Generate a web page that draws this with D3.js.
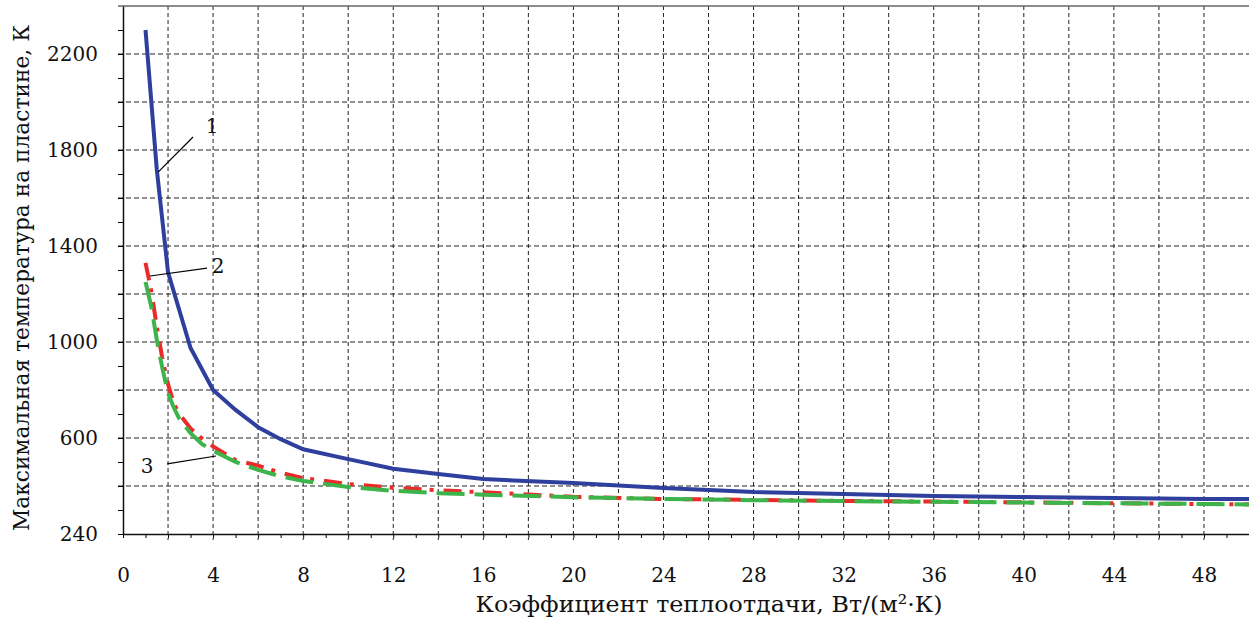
<!DOCTYPE html>
<html>
<head>
<meta charset="utf-8">
<script src="https://cdn.jsdelivr.net/npm/d3@7"></script>
<style>
    body { margin: 0; background: #fff; }
    text { font-family: "DejaVu Serif", serif; fill: #111; }
</style>
</head>
<body>
<svg width="1249" height="622"></svg>
<script>
// heat transfer coefficient, W/(m2 K)
var h1 = [1, 1.5, 2, 3, 4, 5, 6, 7, 8, 10, 12, 14, 16, 20, 24, 28, 30, 34, 36, 40, 44, 48, 50];
// curve 1 - max temperature, K
var temp1 = [2300, 1720, 1290, 975, 800, 717, 645, 595, 553, 512, 472, 450, 429, 412, 392, 375, 371, 362, 358, 354, 350, 346, 346];

var h23 = [1, 1.25, 1.5, 1.75, 2, 2.25, 2.5, 3, 3.5, 4, 5, 6, 7, 8, 10, 12, 14, 16, 20, 24, 28, 32, 36, 40, 44, 48, 50];
// curve 2 (red, dash-dot)
var temp2 = [1330, 1215, 1065, 930, 825, 745, 700, 640, 598, 565, 508, 485, 455, 433, 408, 393, 382, 374, 355, 346, 342, 338, 335, 332, 328, 325, 324];
// curve 3 (green, dashed)
var temp3 = [1250, 1150, 1010, 890, 787, 728, 680, 620, 575, 547, 500, 467, 440, 421, 396, 380, 370, 364, 353, 346, 341, 337, 334, 331, 328, 325, 323];

// axis ticks
var xTickValues = [0, 4, 8, 12, 16, 20, 24, 28, 32, 36, 40, 44, 48];
var yTickValues = [200, 600, 1000, 1400, 1800, 2200];
var yTickLabels = ["240", "600", "1000", "1400", "1800", "2200"];

// curve numbers: label position and leader line (data units)
var labelText = ["1", "2", "3"];
var labelPos = [[3.96, 1871], [4.22, 1287], [1.07, 454]];
var leaderFrom = [[1.56, 1708], [1.2, 1275], [1.96, 492]];
var leaderTo = [[3.11, 1854], [3.73, 1308], [4.13, 525]];

window.onload = function () {
    build_chart();
}

function build_chart() {
    var svg = d3.select("svg"),
        margin = { top: 6, right: 0, bottom: 88, left: 123 },
        width = +svg.attr("width") - margin.left - margin.right,
        height = +svg.attr("height") - margin.top - margin.bottom,
        g = svg.append("g").attr("transform", "translate(" + margin.left + "," + margin.top + ")");

    var x = d3.scaleLinear().domain([0, 50]).range([0, width]);
    var y = d3.scaleLinear().domain([200, 2400]).range([height, 0]);

    //grid lines
    g.append("g")
        .selectAll("line")
        .data(d3.range(2, 50, 2))
        .enter().append("line")
        .attr("x1", function (d) { return x(d); })
        .attr("x2", function (d) { return x(d); })
        .attr("y1", 0)
        .attr("y2", height + 6)
        .attr("stroke", "#222")
        .attr("stroke-width", 1)
        .attr("stroke-dasharray", "4,3");

    g.append("g")
        .selectAll("line")
        .data(d3.range(400, 2400, 200))
        .enter().append("line")
        .attr("x1", -5)
        .attr("x2", width)
        .attr("y1", function (d) { return y(d); })
        .attr("y2", function (d) { return y(d); })
        .attr("stroke", "#222")
        .attr("stroke-width", 1)
        .attr("stroke-dasharray", "5,3");

    // top frame line
    g.append("line")
        .attr("x1", -5).attr("x2", width)
        .attr("y1", 0).attr("y2", 0)
        .attr("stroke", "#666")
        .attr("stroke-width", 1.5);

    //minor ticks
    g.append("g")
        .attr("transform", "translate(0," + height + ")")
        .call(d3.axisBottom(x).tickValues(d3.range(0, 51, 1)).tickSize(4).tickFormat(""))
        .call(function (a) { a.select(".domain").remove(); });

    g.append("g")
        .call(d3.axisLeft(y).tickValues(d3.range(200, 2400, 100)).tickSize(5).tickFormat(""))
        .call(function (a) { a.select(".domain").remove(); });

    //X axis
    var xAxis = g.append("g")
        .attr("transform", "translate(0," + height + ")")
        .call(d3.axisBottom(x).tickValues(xTickValues).tickSize(0).tickPadding(34));
    xAxis.select(".domain").attr("stroke", "#111").attr("stroke-width", 1.5);
    xAxis.selectAll("text").attr("font-size", 20).attr("font-family", "DejaVu Serif").attr("fill", "#111");

    //Y axis
    var yAxis = g.append("g")
        .call(d3.axisLeft(y).tickValues(yTickValues).tickSize(0).tickPadding(25)
            .tickFormat(function (d, i) { return yTickLabels[i]; }));
    yAxis.select(".domain").attr("stroke", "#111").attr("stroke-width", 1.5);
    yAxis.selectAll("text").attr("font-size", 20).attr("font-family", "DejaVu Serif").attr("fill", "#111").attr("dy", "0.3em");

    // axis titles
    svg.append("text")
        .attr("x", 709)
        .attr("y", 612)
        .attr("text-anchor", "middle")
        .attr("font-size", 23)
        .attr("textLength", 467)
        .attr("lengthAdjust", "spacingAndGlyphs")
        .text("Коэффициент теплоотдачи, Вт/(м²·К)");

    svg.append("text")
        .attr("transform", "translate(29,278) rotate(-90)")
        .attr("text-anchor", "middle")
        .attr("font-size", 22)
        .attr("textLength", 506)
        .attr("lengthAdjust", "spacingAndGlyphs")
        .text("Максимальная температура на пластине, К");

    // curves
    var line = d3.line()
        .x(function (d) { return x(d[0]); })
        .y(function (d) { return y(d[1]); });

    g.append("path")
        .datum(d3.zip(h1, temp1))
        .attr("fill", "none")
        .attr("stroke", "#2e3f9e")
        .attr("stroke-width", 4)
        .attr("d", line);

    g.append("path")
        .datum(d3.zip(h23, temp2))
        .attr("fill", "none")
        .attr("stroke", "#ec2a2a")
        .attr("stroke-width", 4)
        .attr("stroke-dasharray", "18,8,4,10")
        .attr("d", line);

    g.append("path")
        .datum(d3.zip(h23, temp3))
        .attr("fill", "none")
        .attr("stroke", "#3cb44a")
        .attr("stroke-width", 4)
        .attr("stroke-dasharray", "28,10")
        .attr("d", line);

    // curve labels
    g.append("g")
        .selectAll("line")
        .data(labelText)
        .enter().append("line")
        .attr("x1", function (d, i) { return x(leaderFrom[i][0]); })
        .attr("y1", function (d, i) { return y(leaderFrom[i][1]); })
        .attr("x2", function (d, i) { return x(leaderTo[i][0]); })
        .attr("y2", function (d, i) { return y(leaderTo[i][1]); })
        .attr("stroke", "#000")
        .attr("stroke-width", 1.2);

    g.append("g")
        .selectAll("text")
        .data(labelText)
        .enter().append("text")
        .attr("x", function (d, i) { return x(labelPos[i][0]); })
        .attr("y", function (d, i) { return y(labelPos[i][1]); })
        .attr("text-anchor", "middle")
        .attr("font-size", 20)
        .text(function (d) { return d; });
}
</script>
</body>
</html>
